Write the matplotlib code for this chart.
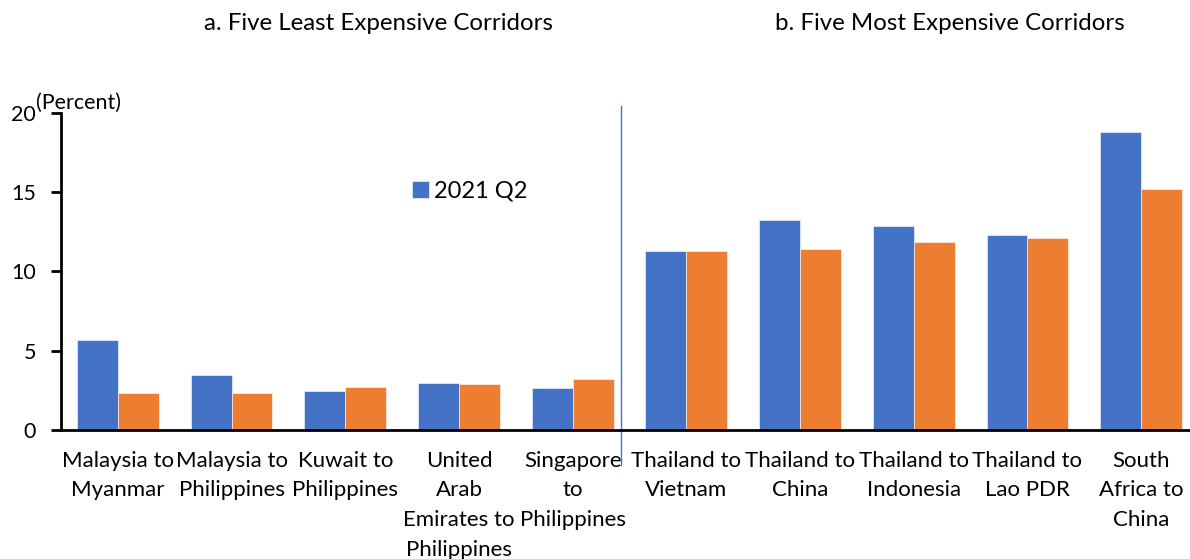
import numpy as np
import matplotlib
matplotlib.use("Agg")
import matplotlib.pyplot as plt

plt.rcParams['font.family'] = ['Lato', 'DejaVu Sans']

corridors = [
    "Malaysia to\nMyanmar", "Malaysia to\nPhilippines", "Kuwait to\nPhilippines",
    "United\nArab\nEmirates to\nPhilippines", "Singapore\nto\nPhilippines",
    "Thailand to\nVietnam", "Thailand to\nChina", "Thailand to\nIndonesia",
    "Thailand to\nLao PDR", "South\nAfrica to\nChina",
]
q2_2021 = [5.70, 3.48, 2.43, 2.94, 2.62, 11.28, 13.23, 12.83, 12.29, 18.76]
other = [2.31, 2.33, 2.69, 2.92, 3.19, 11.26, 11.41, 11.83, 12.10, 15.17]

blue = "#4472C4"
orange = "#ED7D31"

W, H = 1190, 559
fig = plt.figure(figsize=(W / 100, H / 100), dpi=100)
ax = fig.add_axes([61 / W, (559 - 430) / H, 1137 / W, (430 - 112.7) / H])

x = np.arange(len(corridors))
bw = 0.36
ax.bar(x - bw / 2, q2_2021, bw, color=blue, edgecolor="white", linewidth=0.4, label="2021 Q2")
ax.bar(x + bw / 2, other, bw, color=orange, edgecolor="white", linewidth=0.4)

ax.set_xlim(-0.5, len(corridors) - 0.5)
ax.set_ylim(0, 20)
ax.set_yticks([0, 5, 10, 15, 20])
ax.set_xticks(x)
ax.set_xticklabels(corridors, fontsize=16, linespacing=1.6, va="top")
ax.tick_params(axis="x", length=0, pad=15)
ax.tick_params(axis="y", direction="out", length=7, width=2, labelsize=15.5, pad=11)

for s in ["top", "right"]:
    ax.spines[s].set_visible(False)
for s in ["left", "bottom"]:
    ax.spines[s].set_linewidth(2)
    ax.spines[s].set_color("black")

# separator between the two panels
ax.axvline(4.425, ymin=-0.11, ymax=1.02, color=blue, lw=1, clip_on=False)

ax.legend(loc="center left", bbox_to_anchor=(0.29, 0.753), frameon=False,
          fontsize=17, handlelength=0.7, handleheight=0.7, handletextpad=0.25)

fig.text(36 / W, 1 - 103 / H, "(Percent)", fontsize=15.5, ha="left", va="center")
fig.text(378 / W, 1 - 24 / H, "a. Five Least Expensive Corridors", fontsize=17.3, ha="center", va="center")
fig.text(950 / W, 1 - 24 / H, "b. Five Most Expensive Corridors", fontsize=17.3, ha="center", va="center")

fig.savefig("out.png", dpi=100)
